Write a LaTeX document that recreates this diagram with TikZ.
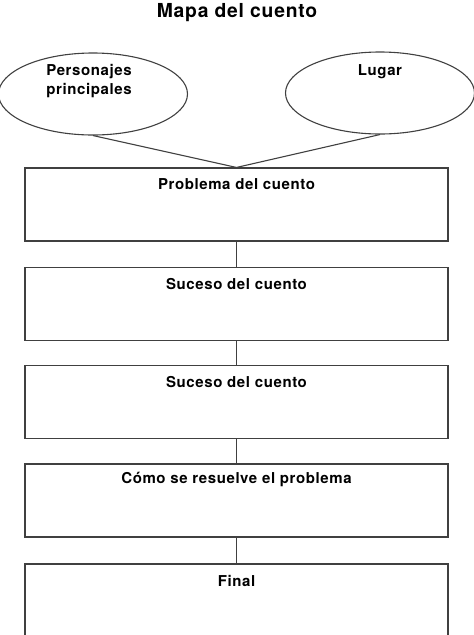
\documentclass[tikz,border=0pt]{standalone}
\usepackage{fontspec}
\setmainfont[LetterSpace=4]{TeX Gyre Heros}
\usetikzlibrary{shapes.geometric}
\begin{document}
\begin{tikzpicture}[x=1pt,y=-1pt,
    line width=1.1pt,draw=black!75,
    oval/.style={draw,ellipse,minimum width=189pt,minimum height=82pt,inner sep=0pt},
    box/.style={draw,rectangle,minimum width=423pt,minimum height=73pt,inner sep=0pt},
    txt/.style={font=\fontsize{15}{18.5}\selectfont\bfseries,align=center,inner sep=0pt}]
      \useasboundingbox (0,0) rectangle (474,635);
      \node[txt,font=\fontsize{19.3}{22}\selectfont\bfseries] (title) at (237,13) {Mapa del cuento};
      \node[oval] (pers) at (93,94) {};
      \node[oval] (lugar) at (380,93) {};
      \node[txt] (perstxt) at (89,81) {Personajes\\principales};
      \node[txt] (lugartxt) at (380,72) {Lugar};
      \node[box] (prob) at (236.5,204.5) {};
      \node[box] (suc1) at (236.5,304) {};
      \node[box] (suc2) at (236.5,402) {};
      \node[box] (res) at (236.5,500.5) {};
      \node[box] (fin) at (236.5,600.5) {};
      \node[txt] (probtxt) at (236.5,184) {Problema del cuento};
      \node[txt] (suc1txt) at (236.5,284) {Suceso del cuento};
      \node[txt] (suc2txt) at (236.5,382) {Suceso del cuento};
      \node[txt] (restxt) at (236.5,479) {Cómo se resuelve el problema};
      \node[txt] (fintxt) at (236.5,581) {Final};
      \draw (pers.south) -- (prob.north);
      \draw (lugar.south) -- (prob.north);
      \draw (prob) -- (suc1);
      \draw (suc1) -- (suc2);
      \draw (suc2) -- (res);
      \draw (res) -- (fin);
    \end{tikzpicture}
\end{document}
